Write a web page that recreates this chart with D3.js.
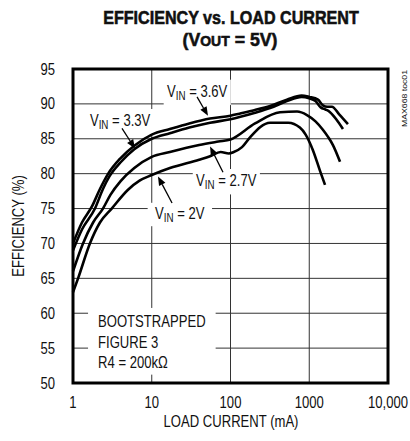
<!DOCTYPE html>
<html><head><meta charset="utf-8">
<script src="https://cdn.jsdelivr.net/npm/d3@7"></script>
<style>
html,body{margin:0;padding:0;background:#fff;}
svg{display:block;}
text{font-family:"Liberation Sans",Arial,Helvetica,sans-serif;fill:#111;}
</style></head>
<body>
<svg id="c" width="410" height="441"></svg>
<script>
// ---- data ----
const xTicks = [1, 10, 100, 1000, 10000];
const xTickLabels = ["1", "10", "100", "1000", "10,000"];
const yTicks = [50, 55, 60, 65, 70, 75, 80, 85, 90, 95];
const seriesNames = ["3.6V", "3.3V", "2.7V", "2V"];
const load36 = [1, 1.3, 1.74, 2.2, 2.8, 4, 6, 10, 17, 30, 55, 100, 130, 200, 318, 520, 800, 1000, 1290, 1490, 1700, 1940, 2400, 3100];
const eff36  = [70, 73, 75.3, 77.8, 80, 82.2, 84, 85.6, 86.4, 87.2, 87.9, 88.3, 88.6, 89.1, 89.7, 90.6, 91.2, 91.0, 90.6, 89.8, 89.6, 89.6, 88.5, 87.1];
const load33 = [1, 1.3, 1.9, 2.4, 2.9, 4, 6, 10, 17, 30, 55, 100, 200, 318, 520, 800, 1000, 1200, 1400, 1600, 1750, 2200, 2680];
const eff33  = [69, 72, 75, 77.8, 79.6, 81.6, 83.5, 85.0, 85.8, 86.6, 87.3, 87.8, 88.7, 89.4, 90.4, 91.0, 90.8, 90.4, 89.5, 89.2, 89.0, 87.8, 86.4];
const load27 = [1, 1.34, 1.8, 2.4, 3, 4, 6, 10, 17, 40, 70, 100, 205, 425, 700, 935, 1200, 1490, 1750, 2000, 2460];
const eff27  = [66, 70, 73, 75, 77, 78.9, 80.8, 82.4, 83.1, 84.1, 84.6, 84.9, 87.2, 88.8, 88.9, 88.4, 87.5, 86.3, 85.2, 84.1, 81.7];
const load2  = [1, 1.16, 1.64, 2.2, 3.1, 5, 7, 10, 17, 40, 55, 75, 95, 110, 140, 177, 318, 540, 760, 900, 1110, 1370, 1585];
const eff2   = [63, 65, 70, 73, 75, 77.7, 79, 79.8, 80.8, 82.0, 82.5, 83.1, 82.9, 83.1, 83.8, 85.2, 87.3, 87.3, 86.6, 85.6, 83.4, 80.4, 78.4];
const loads = [load36, load33, load27, load2];
const effs  = [eff36, eff33, eff27, eff2];
// annotation anchors in data units
const annoText = ["3.6V", "3.3V", "2.7V", "2V"];
const annoX  = [15.6, 1.64, 36.5, 11];
const annoY  = [91.0, 86.8, 78.2, 73.5];
const arrFromX = [37.6, 4.19, 80.3, 18.1];
const arrFromY = [91.0, 86.5, 80.2, 75.8];
const arrToX   = [51.8, 6.13, 55, 12];
const arrToY   = [88.3, 83.6, 83.9, 79.6];
const noteLines = ["BOOTSTRAPPED", "FIGURE 3", "R4 = 200kΩ"];
const noteX = 2.08;
const noteY = [58.0, 55.0, 52.1];

// ---- layout ----
const svg = d3.select("#c");
const L = 73, R = 388, T = 69, B = 383;
const x = d3.scaleLog().domain([1, 10000]).range([L, R]);
const y = d3.scaleLinear().domain([50, 95]).range([B, T]);

const probe = svg.append("text").attr("font-size", 16).text("LOAD CURRENT (mA)");
const S = 135 / probe.node().getComputedTextLength();
probe.remove();

function ctext(parent, px, py, size, str, anchor) {
  const gg = parent.append("g").attr("transform", `translate(${px},${py}) scale(${S},1)`);
  const t = gg.append("text").attr("font-size", size).attr("text-anchor", anchor || "start");
  if (str !== null) t.text(str);
  return { g: gg, t: t };
}
function fitText(parent, px, py, size, width, anchor, build, weight) {
  const gg = parent.append("g");
  const t = gg.append("text").attr("font-size", size).attr("text-anchor", anchor || "start");
  if (weight) t.attr("font-weight", weight).style("stroke", "#111").style("stroke-width", 0.6);
  build(t);
  const w = t.node().getBBox().width;
  gg.attr("transform", `translate(${px},${py}) scale(${width / w},1)`);
  return t;
}

// title
fitText(svg, 231, 24, 19, 256, "middle", t => t.text("EFFICIENCY vs. LOAD CURRENT"), "bold");
fitText(svg, 230, 46, 19, 95, "middle", t => {
  t.append("tspan").text("(V");
  t.append("tspan").attr("font-size", 15).text("OUT");
  t.append("tspan").text(" = 5V)");
}, "bold");

// grid
const g = svg.append("g");
g.selectAll("line.h").data(yTicks.slice(1, -1)).join("line")
  .attr("x1", L).attr("x2", R).attr("y1", d => y(d)).attr("y2", d => y(d))
  .attr("stroke", "#333").attr("stroke-width", 1);
g.selectAll("line.v").data(xTicks.slice(1, -1)).join("line")
  .attr("y1", T).attr("y2", B).attr("x1", d => x(d)).attr("x2", d => x(d))
  .attr("stroke", "#333").attr("stroke-width", 1);

const bgLayer = svg.append("g");
const curveLayer = svg.append("g");
const textLayer = svg.append("g");

// curves
const line = d3.line().x(d => x(d[0])).y(d => y(d[1])).curve(d3.curveMonotoneX);
loads.forEach((ld, i) => {
  curveLayer.append("path").datum(ld.map((v, j) => [v, effs[i][j]]))
    .attr("d", line).attr("fill", "none").attr("stroke", "#000")
    .attr("stroke-width", 2.6).attr("stroke-linejoin", "round");
});

// annotations
const pads = [[4, 3], [4, 3], [4, 3], [9, 2]];
annoText.forEach((t, i) => {
  const px = x(annoX[i]), py = y(annoY[i]);
  const c = ctext(textLayer, px, py, 16, null);
  c.t.append("tspan").text("V");
  c.t.append("tspan").attr("font-size", 12).attr("dy", 3).text("IN");
  c.t.append("tspan").attr("dy", -3).text(" = " + t);
  const bb = c.t.node().getBBox();
  bgLayer.append("g").attr("transform", `translate(${px},${py}) scale(${S},1)`)
    .append("rect").attr("x", bb.x - pads[i][0]).attr("y", bb.y - pads[i][1])
    .attr("width", bb.width + 2 * pads[i][0]).attr("height", bb.height + 2 * pads[i][1]).attr("fill", "#fff");
  const x1 = x(arrFromX[i]), y1 = y(arrFromY[i]), x2 = x(arrToX[i]), y2 = y(arrToY[i]);
  const ang = Math.atan2(y2 - y1, x2 - x1), hl = 9, hw = 3.6;
  const bx = x2 - hl * Math.cos(ang), by = y2 - hl * Math.sin(ang);
  textLayer.append("line").attr("x1", x1).attr("y1", y1).attr("x2", bx).attr("y2", by)
    .attr("stroke", "#000").attr("stroke-width", 1.3);
  textLayer.append("path").attr("d",
    `M${x2},${y2}L${bx + hw * Math.sin(ang)},${by - hw * Math.cos(ang)}L${bx - hw * Math.sin(ang)},${by + hw * Math.cos(ang)}Z`)
    .attr("fill", "#000");
});

// note box
let nb = null;
noteLines.forEach((s, i) => {
  const px = x(noteX), py = y(noteY[i]);
  const c = ctext(textLayer, px, py, 16, s);
  const b = c.t.node().getBBox();
  const x0 = px + b.x * S, x1 = px + (b.x + b.width) * S, y0 = py + b.y, y1 = py + b.y + b.height;
  if (!nb) nb = { x0, y0, x1, y1 };
  else { nb.x0 = Math.min(nb.x0, x0); nb.y0 = Math.min(nb.y0, y0); nb.x1 = Math.max(nb.x1, x1); nb.y1 = Math.max(nb.y1, y1); }
});
bgLayer.append("rect").attr("x", nb.x0 - 10).attr("y", nb.y0 - 5)
  .attr("width", nb.x1 - nb.x0 + 20).attr("height", nb.y1 - nb.y0 + 8).attr("fill", "#fff");

// frame
svg.append("rect").attr("x", L).attr("y", T).attr("width", R - L).attr("height", B - T)
  .attr("fill", "none").attr("stroke", "#000").attr("stroke-width", 3);

// tick labels
yTicks.forEach(d => ctext(svg, 55, y(d) + 5.5, 16, String(d), "end"));
xTicks.forEach((d, i) => ctext(svg, x(d), 408, 16, xTickLabels[i], "middle"));
ctext(svg, 231, 427, 16, "LOAD CURRENT (mA)", "middle");
svg.append("g").attr("transform", `translate(24,${(T + B) / 2}) rotate(-90) scale(${S},1)`)
  .append("text").attr("text-anchor", "middle").attr("font-size", 16).text("EFFICIENCY (%)");
const mx = svg.append("g");
const mt = mx.append("text").attr("text-anchor", "end").attr("font-size", 8).text("MAX668 toc01");
mx.attr("transform", `translate(407,70) rotate(-90) scale(${57 / mt.node().getComputedTextLength()},1)`);
</script>
</body></html>
